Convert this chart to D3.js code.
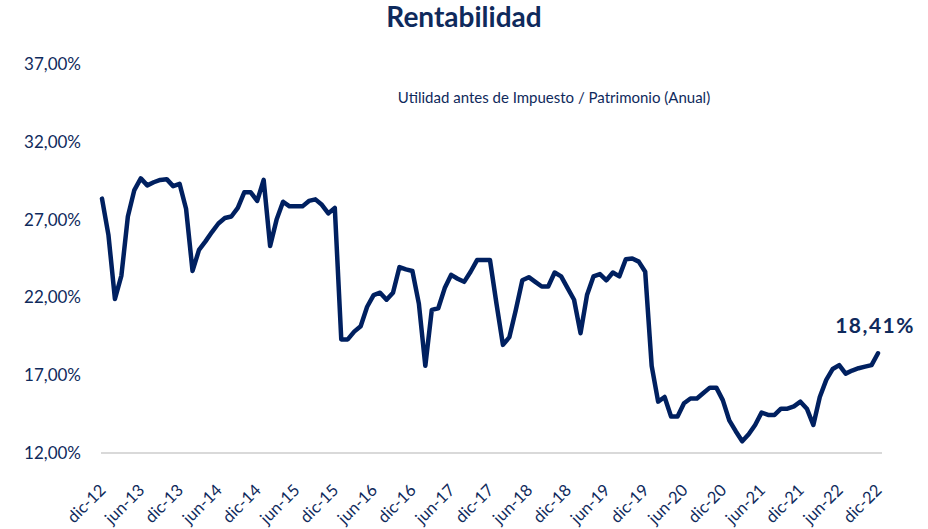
<!DOCTYPE html>
<html>
<head>
<meta charset="utf-8">
<script src="https://cdn.jsdelivr.net/npm/d3@7"></script>
<style>
  body { margin: 0; background: #fff; }
  svg text { font-family: Lato, "Open Sans", sans-serif; fill: #0f2a5c; }
  .axis .domain, .axis line { display: none; }
</style>
</head>
<body>
<div id="chart"></div>
<script>
const width = 928;
const height = 529;

// monthly values, dic-12 .. dic-22
const rentabilidad = [
  28.35, 26.0, 21.9, 23.4, 27.2, 28.9, 29.65, 29.2, 29.4, 29.55, 29.6, 29.15,
  29.3, 27.7, 23.7, 25.05, 25.6, 26.2, 26.75, 27.1, 27.2, 27.75, 28.75, 28.75,
  28.2, 29.55, 25.3, 27.0, 28.15, 27.85, 27.85, 27.85, 28.2, 28.3, 27.95, 27.4,
  27.75, 19.3, 19.3, 19.8, 20.15, 21.4, 22.15, 22.3, 21.85, 22.3, 23.95, 23.8,
  23.7, 21.6, 17.6, 21.2, 21.3, 22.6, 23.45, 23.2, 23.0, 23.65, 24.4, 24.4,
  24.4, 21.6, 18.95, 19.45, 21.2, 23.1, 23.3, 23.0, 22.7, 22.7, 23.6, 23.35,
  22.6, 21.85, 19.7, 22.15, 23.35, 23.5, 23.1, 23.6, 23.35, 24.45, 24.5, 24.3,
  23.65, 17.6, 15.3, 15.6, 14.35, 14.35, 15.2, 15.5, 15.5, 15.85, 16.2, 16.2,
  15.4, 14.1, 13.4, 12.75, 13.2, 13.8, 14.6, 14.45, 14.45, 14.85, 14.85, 15.0,
  15.3, 14.85, 13.8, 15.6, 16.7, 17.4, 17.65, 17.1, 17.3, 17.45, 17.55, 17.65,
  18.41
];

const xTickLabels = ["dic-12", "jun-13", "dic-13", "jun-14", "dic-14", "jun-15", "dic-15",
  "jun-16", "dic-16", "jun-17", "dic-17", "jun-18", "dic-18", "jun-19", "dic-19",
  "jun-20", "dic-20", "jun-21", "dic-21", "jun-22", "dic-22"];
const yTicks = [12, 17, 22, 27, 32, 37];
const yTickLabels = ["12,00%", "17,00%", "22,00%", "27,00%", "32,00%", "37,00%"];

const title = "Rentabilidad";
const subtitle = "Utilidad antes de Impuesto / Patrimonio (Anual)";
const lastLabel = "18,41%";

const svg = d3.select("#chart")
  .append("svg")
  .attr("width", width)
  .attr("height", height);

const x = d3.scaleLinear()
  .domain([0, rentabilidad.length - 1])
  .range([102, 878]);

const y = d3.scaleLinear()
  .domain([12, 37])
  .range([453, 64]);

// baseline
svg.append("line")
  .attr("x1", x(0) - 1)
  .attr("x2", x(rentabilidad.length - 1) + 4)
  .attr("y1", y(12))
  .attr("y2", y(12))
  .style("stroke", "#d9d9d9")
  .style("stroke-width", 2);

// y axis
svg.append("g")
  .attr("class", "axis")
  .attr("transform", "translate(81,0)")
  .call(d3.axisLeft(y).tickValues(yTicks).tickSize(0).tickPadding(0)
    .tickFormat((d, i) => yTickLabels[i]))
  .selectAll("text")
  .style("font-size", "17px");

// x axis
const xTicks = xTickLabels.map((d, i) => i * 6);
svg.append("g")
  .attr("class", "axis")
  .attr("transform", `translate(0,${y(12)})`)
  .call(d3.axisBottom(x).tickValues(xTicks).tickSize(0)
    .tickFormat((d, i) => xTickLabels[i]))
  .selectAll("text")
  .style("font-size", "16.5px")
  .attr("text-anchor", "end")
  .attr("dy", "0.35em")
  .attr("transform", "translate(-2,32) rotate(-45)");

// line
const line = d3.line()
  .x((d, i) => x(i))
  .y(d => y(d));

svg.append("path")
  .datum(rentabilidad)
  .attr("d", line)
  .style("fill", "none")
  .style("stroke", "#002060")
  .style("stroke-width", 4.5)
  .style("stroke-linejoin", "round")
  .style("stroke-linecap", "round");

// last value
svg.append("text")
  .attr("x", x(rentabilidad.length - 1) + 37)
  .attr("y", y(rentabilidad[rentabilidad.length - 1]) - 20)
  .attr("text-anchor", "end")
  .style("font-size", "21px")
  .style("font-weight", "bold")
  .style("letter-spacing", "1.5px")
  .text(lastLabel);

// titles
svg.append("text")
  .attr("x", 464)
  .attr("y", 27)
  .attr("text-anchor", "middle")
  .style("font-size", "28px")
  .style("font-weight", "bold")
  .text(title);

svg.append("text")
  .attr("x", 554)
  .attr("y", 103)
  .attr("text-anchor", "middle")
  .style("font-size", "15px")
  .text(subtitle);
</script>
</body>
</html>
